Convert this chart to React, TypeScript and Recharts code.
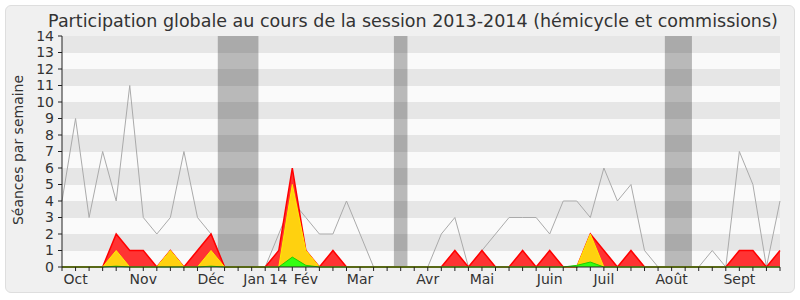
import React from 'react';
import { ComposedChart, Area, XAxis, YAxis, CartesianGrid, ReferenceArea } from 'recharts';

// Séances par semaine, une valeur par semaine d'octobre 2013 à septembre 2014
const total = [4, 9, 3, 7, 4, 11, 3, 2, 3, 7, 3, 2, 0, 0, 0, 0, 2, 4, 3, 2, 2, 4, 2, 0, 0, 0, 0, 0, 2, 3, 0, 1, 2, 3, 3, 3, 2, 4, 4, 3, 6, 4, 5, 1, 0, 0, 0, 0, 1, 0, 7, 5, 0, 4];
const presence = [0, 0, 0, 0, 2, 1, 1, 0, 1, 0, 1, 2, 0, 0, 0, 0, 1, 6, 1, 0, 1, 0, 0, 0, 0, 0, 0, 0, 0, 1, 0, 1, 0, 0, 1, 0, 1, 0, 0, 2, 1, 0, 1, 0, 0, 0, 0, 0, 0, 0, 1, 1, 0, 1];
const interventions = [0, 0, 0, 0, 1, 0, 0, 0, 1, 0, 0, 1, 0, 0, 0, 0, 0, 5, 1, 0, 0, 0, 0, 0, 0, 0, 0, 0, 0, 0, 0, 0, 0, 0, 0, 0, 0, 0, 0, 2, 0, 0, 0, 0, 0, 0, 0, 0, 0, 0, 0, 0, 0, 0];
const questions = [0, 0, 0, 0, 0.05, 0, 0, 0, 0, 0, 0, 0.05, 0, 0, 0, 0, 0, 0.6, 0.1, 0, 0, 0, 0, 0, 0, 0, 0, 0, 0, 0, 0, 0, 0, 0, 0, 0, 0, 0, 0.1, 0.3, 0, 0, 0, 0, 0, 0, 0, 0, 0, 0, 0, 0, 0, 0];

// vacances parlementaires (en semaines)
const vacancesDebut = [11.5, 24.5, 44.5];
const vacancesFin = [14.5, 25.5, 46.5];

const moisLabels = ['Oct', 'Nov', 'Déc', 'Jan 14', 'Fév', 'Mar', 'Avr', 'Mai', 'Juin', 'Juil', 'Août', 'Sept'];
const moisSemaines = [1, 6, 11, 15, 18, 22, 27, 31, 36, 40, 45, 50];

const yTicks = [0, 1, 2, 3, 4, 5, 6, 7, 8, 9, 10, 11, 12, 13, 14];

const data = total.map((t, i) => ({
    semaine: i,
    total: t,
    presence: presence[i],
    interventions: interventions[i],
    questions: questions[i],
}));
const semaineTicks = data.map((d) => d.semaine);

const MoisTick = (props: any) => {
    const { x, y, payload } = props;
    const idx = moisSemaines.indexOf(payload.value);
    if (idx < 0) return <g />;
    return (
        <text x={x} y={y} dy="0.71em" textAnchor="middle" fontSize={14} fill="#333">
            {moisLabels[idx]}
        </text>
    );
};

const App = () => {
    return (
        <div style={{ position: 'absolute', left: 0, top: 0, width: 800, height: 300, background: '#fff', fontFamily: 'DejaVu Sans' }}>
            <div style={{ position: 'absolute', left: 5, top: 5, width: 790, height: 288, boxSizing: 'border-box', border: '1px solid #dedede', borderRadius: 6, background: '#f0f0f0' }} />
            <div style={{ position: 'absolute', left: 0, top: 0 }}>
                <ComposedChart width={800} height={300} data={data} margin={{ top: 36, right: 20, bottom: 0, left: 0 }}>
                    <CartesianGrid vertical={false} stroke="none" horizontalFill={['#e6e6e6', '#fafafa']} />
                    {vacancesDebut.map((d, i) => (
                        <ReferenceArea key={i} x1={d} x2={vacancesFin[i]} fill="#000" fillOpacity={0.26} stroke="none" />
                    ))}
                    <XAxis
                        dataKey="semaine"
                        type="number"
                        domain={[0, 53]}
                        ticks={semaineTicks}
                        interval={0}
                        tickSize={4}
                        tickMargin={3}
                        tick={<MoisTick />}
                        axisLine={{ stroke: '#222' }}
                        tickLine={{ stroke: '#222' }}
                        height={33}
                    />
                    <XAxis
                        xAxisId="top"
                        orientation="top"
                        dataKey="semaine"
                        type="number"
                        domain={[0, 53]}
                        ticks={semaineTicks}
                        interval={0}
                        tickSize={1}
                        tick={false}
                        axisLine={{ stroke: '#e8e8e8' }}
                        tickLine={{ stroke: '#111' }}
                        height={0}
                    />
                    <YAxis
                        domain={[0, 14]}
                        ticks={yTicks}
                        interval={0}
                        width={62}
                        tickSize={4}
                        tickMargin={4}
                        tick={{ fontSize: 14, fill: '#333' }}
                        axisLine={{ stroke: '#222' }}
                        tickLine={{ stroke: '#222' }}
                    />
                    <YAxis yAxisId="right" orientation="right" width={0} tick={false} tickLine={false} axisLine={{ stroke: '#d4d4d4' }} />
                    <Area type="linear" dataKey="total" stroke="#aaaaaa" strokeWidth={1} fill="none" dot={false} activeDot={false} isAnimationActive={false} />
                    <Area type="linear" dataKey="presence" stroke="#ff0000" strokeWidth={1.5} fill="#ff3333" fillOpacity={1} dot={false} activeDot={false} isAnimationActive={false} />
                    <Area type="linear" dataKey="interventions" stroke="#ffee00" strokeWidth={1} fill="#ffd10f" fillOpacity={1} dot={false} activeDot={false} isAnimationActive={false} />
                    <Area type="linear" dataKey="questions" stroke="#22cc00" strokeWidth={1} fill="#33ff11" fillOpacity={1} dot={false} activeDot={false} isAnimationActive={false} />
                </ComposedChart>
            </div>
            <svg width={800} height={300} style={{ position: 'absolute', left: 0, top: 0, pointerEvents: 'none' }}>
                <text x={413} y={27} textAnchor="middle" fontSize={17.5} fill="#333">
                    Participation globale au cours de la session 2013-2014 (hémicycle et commissions)
                </text>
                <text transform="translate(23,150) rotate(-90)" textAnchor="middle" fontSize={14} fill="#333">
                    Séances par semaine
                </text>
            </svg>
        </div>
    );
};

export default App;
